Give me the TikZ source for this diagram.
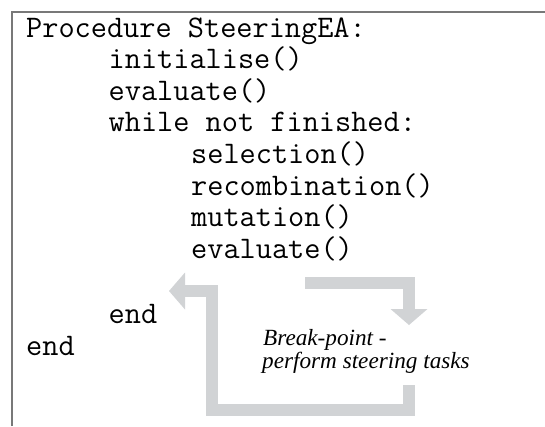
\documentclass[tikz,border=0pt]{standalone}
\usepackage{fontspec}
\newfontfamily\notefont{Liberation Serif}
\usetikzlibrary{arrows.meta}
\definecolor{loopgray}{RGB}{209,211,213}
\definecolor{framegray}{RGB}{120,120,120}

\begin{document}
\begin{tikzpicture}[x=1pt, y=-1pt,
  code/.style={anchor=base west, inner sep=0pt, font=\fontsize{31.4}{34}\selectfont\ttfamily},
  note/.style={anchor=base west, inner sep=0pt, font=\fontsize{23.2}{25}\selectfont\notefont\itshape},
  steerarrow/.style={draw=loopgray, line width=12pt, line join=miter, -{Triangle[length=16pt, width=37pt, line width=0pt]}}]
	\useasboundingbox (0,0) rectangle (545,426);
	\draw[framegray, line width=1.5pt] (12,426) -- (12,12) -- (545,12);
	\node[code] (proc) at (26,37) {Procedure SteeringEA:};
	\node[code] (init) at (108.5,68.6) {initialise()};
	\node[code] (evalA) at (108.5,100.2) {evaluate()};
	\node[code] (while) at (108.5,131.8) {while not finished:};
	\node[code] (sel) at (191,163.4) {selection()};
	\node[code] (recomb) at (191,195) {recombination()};
	\node[code] (mut) at (191,226.6) {mutation()};
	\node[code] (evalB) at (191,258.2) {evaluate()};
	\node[code] (endwhile) at (108.5,323) {end};
	\node[code] (endproc) at (26,355) {end};
	\node[note] (brk) at (263,345) {Break-point -};
	\node[note] (task) at (262,368) {perform steering tasks};
	% break out to the steering tasks and back into the loop
	\coordinate (outA) at (305,283);
	\coordinate (outB) at (409,325);
	\coordinate (backA) at (409,385);
	\coordinate (backB) at (169,291);
	\draw[steerarrow] (outA) -- (outA -| outB) -- (outB);
	\draw[steerarrow] (backA) -- (409,410) -- (212,410) -- (212,291) -- (backB);
\end{tikzpicture}
\end{document}
